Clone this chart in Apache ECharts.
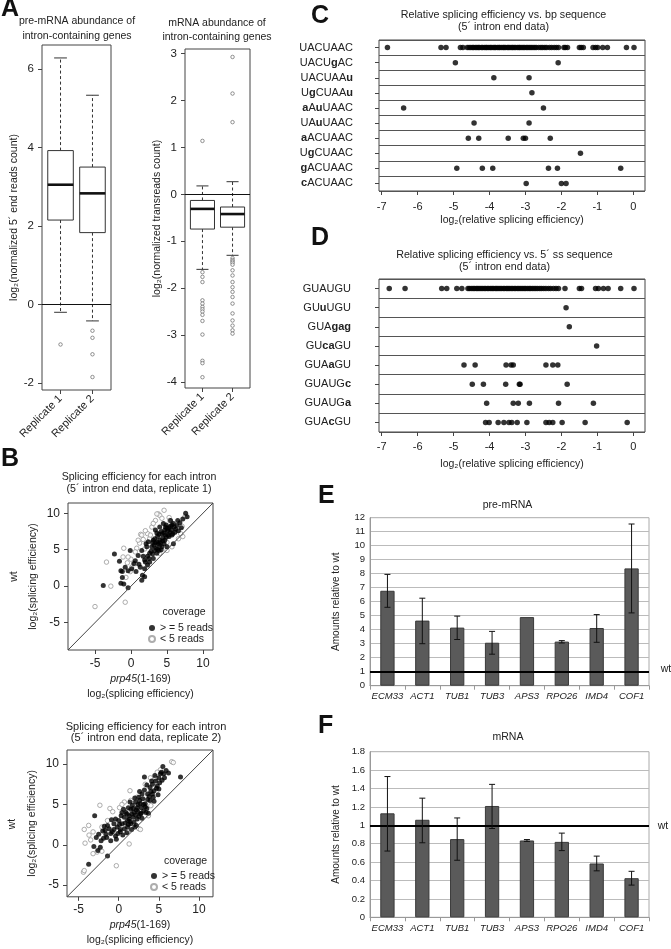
<!DOCTYPE html>
<html><head><meta charset="utf-8">
<script src="https://cdn.jsdelivr.net/npm/echarts@6/dist/echarts.min.js"></script>
<style>html,body{margin:0;padding:0;background:#fff}#c{width:671px;height:949px}</style>
</head><body><div id="c"></div>
<script>
// ---------------- DATA ----------------
// Panel A (boxplots: [lower whisker, Q1, median, Q3, upper whisker])
const repLabels = ['Replicate 1', 'Replicate 2'];
const preStats1 = [-0.2, 2.15, 3.05, 3.92, 6.28];
const preStats2 = [-0.42, 1.83, 2.83, 3.5, 5.33];
const preOut1 = [-1.02];
const preOut2 = [-0.67, -0.85, -1.27, -1.85];
const mStats1 = [-1.6, -0.74, -0.31, -0.13, 0.18];
const mStats2 = [-1.3, -0.7, -0.42, -0.27, 0.27];
const mOut1 = [1.14, -1.66, -1.76, -1.87, -2.26, -2.33, -2.4, -2.45, -2.5, -2.57, -2.7, -2.99, -3.55, -3.6, -3.9];
const mOut2 = [2.93, 2.15, 1.54, -1.36, -1.4, -1.43, -1.46, -1.5, -1.62, -1.73, -1.87, -1.98, -2.08, -2.19, -2.33, -2.54, -2.69, -2.8, -2.9, -2.97];

// Panel B replicate 1: [prp45 (x), wt (y)]
const b1Hi = [[-3.85,0.1],[-2.3,4.4],[-1.6,3.4],[-1.4,2.1],[-1.2,1.2],[-1.4,0.4],[-1.0,0.3],[-0.4,-0.2],[-1.2,2.0],[-0.8,2.6],
 [-0.1,4.9],[-0.4,2.1],[0.1,2.4],[0.4,3.1],[0.7,2.0],[1.3,2.6],[1.5,0.8],[1.9,2.4],[1.9,3.6],[2.3,2.9],
 [1.7,4.1],[1.0,4.2],[1.5,4.9],[2.2,5.4],[2.6,4.5],[2.9,5.4],[3.1,6.3],[2.4,6.1],[2.1,5.8],[3.6,6.1],
 [4.0,8.1],[4.5,8.6],[4.7,7.7],[4.9,8.4],[4.3,7.2],[3.7,6.8],[3.4,7.7],[4.0,6.3],[4.7,6.3],[5.2,7.0],
 [5.7,8.4],[5.4,7.4],[5.9,5.8],[6.2,7.8],[6.8,8.7],[7.6,10.0],[7.8,9.5],[1.9,1.3],[1.6,1.5],[2.3,4.1],
 [2.6,3.3],[3.1,3.8],[3.3,4.9],[3.6,4.5],[3.9,4.9],[4.3,5.4],[4.6,5.8],[5.0,5.4],[3.2,5.6],[3.5,5.2],
 [3.8,5.8],[4.1,6.0],[4.4,6.6],[4.8,7.0],[5.1,7.6],[5.3,8.0],[5.6,7.7],[5.8,7.2],[6.0,8.1],[6.4,8.3],
 [3.0,6.0],[3.3,6.5],[3.9,7.1],[4.2,7.5],[4.6,7.3],[5.0,7.9],[5.5,8.2],[5.9,8.6],[6.5,9.0],[7.0,8.0],
 [2.8,4.8],[3.4,5.9],[4.0,5.6],[4.4,6.2],[4.9,6.7],[5.3,6.8],[5.7,7.0],[6.1,7.4],[2.5,3.8],[3.0,4.4],
 [3.7,5.1],[4.2,5.0],[0.6,3.5],[1.1,3.0],[2.0,3.3],[6.6,7.6],[7.2,9.2],[5.5,9.0],[3.6,7.3],[4.8,8.1]];
const b1Lo = [[-5.0,-2.8],[-0.8,-2.2],[-2.8,0.0],[-3.4,3.3],[4.6,10.4],[3.8,9.9],[7.2,6.8],[7.1,8.2],[5.3,9.4],[5.0,6.0],
 [0.0,3.7],[1.35,7.1],[1.7,6.4],[-0.5,3.2],[-1.1,4.0],[-1.0,5.2],[-0.4,4.0],[0.1,2.6],[-0.7,1.2],[0.8,5.2],
 [1.2,5.9],[0.6,4.7],[1.5,7.0],[2.3,7.2],[2.9,8.1],[3.4,9.0],[4.0,9.7],[3.6,9.9],[4.3,9.3],[5.4,9.0],
 [6.1,7.4],[6.6,6.5],[5.7,5.4],[5.0,4.9],[4.0,4.5],[1.9,5.1],[2.6,6.5],[0.6,3.1],[-0.1,2.0],[6.9,7.2],
 [7.5,9.5],[2.0,7.6],[2.7,7.0],[3.1,8.6],[1.0,6.3]];

// Panel B replicate 2
const b2Hi = [[-3.75,-2.4],[-1.4,-1.4],[-3.0,3.6],[5.5,9.7],[7.7,8.4],[3.2,8.4],[-3.1,-0.2],[-2.6,-0.7],[-2.2,0.5],[-2.5,1.3],
 [-2.0,1.7],[-1.6,1.3],[-1.2,2.0],[-1.4,2.4],[-1.8,2.3],[-0.8,1.6],[-0.6,2.6],[-0.2,2.2],[-0.4,3.2],[0.0,3.0],
 [0.2,1.9],[0.4,2.6],[0.7,3.4],[0.9,4.0],[1.1,3.0],[1.3,3.6],[1.5,4.4],[1.7,4.9],[1.9,4.0],[2.1,5.3],
 [2.3,4.6],[2.5,5.9],[2.7,5.1],[2.9,6.3],[2.7,3.8],[2.3,3.2],[3.1,4.2],[3.3,5.1],[3.6,6.3],[3.9,7.1],
 [4.2,7.5],[4.4,6.7],[4.6,7.9],[4.8,7.3],[5.0,8.3],[5.2,8.8],[5.4,8.0],[5.6,8.8],[5.9,9.2],[3.9,5.5],
 [3.5,4.5],[4.3,5.9],[3.7,3.9],[1.5,2.6],[0.7,2.0],[-1.0,0.5],[-0.4,1.1],[0.2,1.6],[1.1,2.2],[1.9,2.8],
 [2.9,3.3],[-2.8,0.9],[-1.9,0.8],[-1.0,1.4],[-0.3,0.7],[0.5,1.2],[1.0,1.5],[1.6,1.9],[2.2,2.4],[0.3,3.6],
 [0.6,4.4],[1.2,4.6],[1.4,5.3],[1.8,3.4],[2.0,5.8],[2.4,4.1],[2.6,6.6],[3.0,5.7],[3.2,6.8],[3.4,4.0],
 [3.8,6.0],[4.0,6.6],[4.1,7.9],[4.5,8.6],[4.7,7.0],[5.1,7.7],[5.3,9.0],[4.9,6.2],[0.8,2.7],[1.3,3.2],
 [1.6,3.8],[2.1,3.7],[2.4,5.0],[2.8,4.6],[3.1,5.0],[0.1,2.5],[-0.6,1.9],[-1.5,0.9],[-2.3,-0.3],[-0.9,3.1],
 [1.0,3.8],[1.8,4.5],[2.2,4.3],[2.6,5.5],[3.5,7.4],[3.6,5.6],[4.2,6.3],[5.0,6.9],[5.7,8.3],[6.2,8.9],
 [0.4,4.0],[1.2,2.5],[2.0,2.2],[2.8,3.9],[3.3,4.7],[4.4,5.4],[-1.7,1.8],[-0.1,1.4],[1.4,2.9],[2.5,3.5]];
const b2Lo = [[6.6,10.3],[-4.4,-3.4],[-0.3,-2.6],[1.3,0.1],[-4.3,1.9],[-3.75,2.4],[-2.35,4.9],[-1.1,4.5],[-0.75,4.1],[0.1,4.6],
 [1.4,6.7],[3.95,8.3],[5.2,9.3],[-4.2,0.2],[-3.7,1.2],[-2.7,-0.9],[-2.1,-0.8],[-3.2,1.6],[4.0,4.85],[2.5,2.0],
 [6.8,10.2],[2.3,5.9],[0.7,5.3],[-1.4,3.0],[1.5,5.5],[3.3,7.5],[4.6,8.3],[-2.1,2.2],[-4.3,-3.2],[-3.2,-1.1],
 [2.7,1.9],[1.1,1.6],[3.7,3.6],[-3.5,0.6],[0.4,5.0],[4.8,9.0]];

// Panel C
const bpLabels = ['UACUAAC','UACUgAC','UACUAAu','UgCUAAu','aAuUAAC','UAuUAAC','aACUAAC','UgCUAAC','gACUAAC','cACUAAC'];
const bpVals = [
 [-6.84,-5.35,-5.21,-4.81,-4.74,-4.62,-4.57,-4.52,-4.47,-4.44,-4.39,-4.35,-4.31,-4.28,-4.22,-4.19,-4.14,-4.1,-4.07,-4.02,-3.98,-3.95,-3.9,-3.86,-3.83,-3.78,-3.74,-3.71,-3.66,-3.62,-3.59,-3.55,-3.5,-3.47,-3.43,-3.38,-3.35,-3.31,-3.27,-3.22,-3.18,-3.15,-3.1,-3.06,-3.02,-2.97,-2.93,-2.88,-2.84,-2.79,-2.74,-2.7,-2.63,-2.57,-2.52,-2.46,-2.41,-2.33,-2.27,-2.2,-2.14,-2.08,-1.93,-1.89,-1.83,-1.5,-1.45,-1.39,-1.12,-1.05,-0.99,-0.85,-0.72,-0.19,0.02],
 [-4.95,-2.09],
 [-3.88,-2.9],
 [-2.82],
 [-6.39,-2.5],
 [-4.43,-2.9],
 [-4.59,-4.3,-3.48,-3.06,-3.0,-2.31],
 [-1.47],
 [-4.91,-4.2,-3.91,-2.36,-2.11,-0.35],
 [-2.98,-2.0,-1.87]
];

// Panel D
const ssLabels = ['GUAUGU','GUuUGU','GUAgag','GUcaGU','GUAaGU','GUAUGc','GUAUGa','GUAcGU'];
const ssVals = [
 [-6.79,-6.35,-5.33,-5.19,-4.91,-4.77,-4.6,-4.56,-4.51,-4.46,-4.42,-4.37,-4.33,-4.29,-4.24,-4.2,-4.15,-4.11,-4.06,-4.02,-3.97,-3.93,-3.89,-3.84,-3.8,-3.76,-3.71,-3.67,-3.62,-3.58,-3.53,-3.49,-3.45,-3.4,-3.36,-3.31,-3.27,-3.22,-3.18,-3.13,-3.09,-3.04,-3.0,-2.95,-2.9,-2.86,-2.81,-2.76,-2.71,-2.66,-2.6,-2.55,-2.49,-2.43,-2.36,-2.3,-2.22,-2.15,-2.08,-1.9,-1.5,-1.44,-1.05,-0.97,-0.83,-0.7,-0.35,0.02],
 [-1.87],
 [-1.78],
 [-1.02],
 [-4.71,-4.4,-3.54,-3.4,-3.34,-2.43,-2.24,-2.1],
 [-4.48,-4.17,-3.55,-3.17,-3.15,-1.84],
 [-4.08,-3.34,-3.2,-2.89,-2.08,-1.11],
 [-4.11,-4.01,-3.76,-3.6,-3.46,-3.38,-3.23,-2.96,-2.43,-2.34,-2.24,-1.98,-1.34,-0.17]
];

// Panels E, F
const genes = ['ECM33','ACT1','TUB1','TUB3','APS3','RPO26','IMD4','COF1'];
const preVal = [6.78, 4.65, 4.15, 3.07, 4.9, 3.15, 4.12, 8.38];
const preLo  = [5.6, 3.0, 3.3, 2.25, null, 3.05, 3.1, 5.2];
const preHi  = [7.95, 6.25, 4.97, 3.88, null, 3.22, 5.08, 11.55];
const mVal = [1.13, 1.06, 0.85, 1.21, 0.835, 0.82, 0.585, 0.425];
const mLo  = [0.72, 0.81, 0.62, 0.965, 0.825, 0.725, 0.505, 0.35];
const mHi  = [1.53, 1.295, 1.08, 1.445, 0.845, 0.915, 0.665, 0.5];

// --------------- CHART ---------------
const FF = '"Liberation Sans", Arial, Helvetica, sans-serif';
const TC = '#222';
const chart = echarts.init(document.getElementById('c'), null, {renderer: 'canvas'});

function boxItem(params, api) {
  const x = api.value(0);
  const pLo = api.coord([x, api.value(1)]), pQ1 = api.coord([x, api.value(2)]),
        pMd = api.coord([x, api.value(3)]), pQ3 = api.coord([x, api.value(4)]),
        pHi = api.coord([x, api.value(5)]);
  const half = api.size([0.4, 0])[0];
  const cap = half / 2;
  const cx = pMd[0];
  const st = {stroke: '#333', lineWidth: 1, fill: null};
  return {type: 'group', children: [
    {type: 'line', shape: {x1: cx, y1: pQ3[1], x2: cx, y2: pHi[1]}, style: Object.assign({lineDash: [3, 2.5]}, st)},
    {type: 'line', shape: {x1: cx, y1: pQ1[1], x2: cx, y2: pLo[1]}, style: Object.assign({lineDash: [3, 2.5]}, st)},
    {type: 'line', shape: {x1: cx - cap, y1: pHi[1], x2: cx + cap, y2: pHi[1]}, style: st},
    {type: 'line', shape: {x1: cx - cap, y1: pLo[1], x2: cx + cap, y2: pLo[1]}, style: st},
    {type: 'rect', shape: {x: cx - half, y: pQ3[1], width: 2 * half, height: pQ1[1] - pQ3[1]}, style: {fill: '#fff', stroke: '#333', lineWidth: 1}},
    {type: 'line', shape: {x1: cx - half, y1: pMd[1], x2: cx + half, y2: pMd[1]}, style: {stroke: '#111', lineWidth: 2.6}}
  ]};
}
function errItem(params, api) {
  const i = api.value(0);
  const a = api.coord([i, api.value(1)]), b = api.coord([i, api.value(2)]);
  const c = 3;
  const st = {stroke: '#111', lineWidth: 1};
  return {type: 'group', children: [
    {type: 'line', shape: {x1: a[0], y1: a[1], x2: b[0], y2: b[1]}, style: st},
    {type: 'line', shape: {x1: a[0] - c, y1: a[1], x2: a[0] + c, y2: a[1]}, style: st},
    {type: 'line', shape: {x1: b[0] - c, y1: b[1], x2: b[0] + c, y2: b[1]}, style: st}
  ]};
}
const richLab = v => v.replace(/[a-z]+/g, m => '{b|' + m + '}');

function ttl(text, x, y, size, lh, extra) {
  return Object.assign({text, left: x, top: y - (lh * text.split('\n').length) / 2, textAlign: 'center',
    padding: 0, itemGap: 0,
    textStyle: {fontFamily: FF, fontSize: size, fontWeight: 'normal', color: TC, lineHeight: lh}}, extra || {});
}
function letter(t, x, y) {
  return {text: t, left: x, top: y, padding: 0, textStyle: {fontFamily: FF, fontSize: 25, fontWeight: 'bold', color: '#111'}};
}
const frame = {show: true, borderColor: '#444', borderWidth: 1, backgroundColor: 'transparent'};
const axLbl = (size, extra) => Object.assign({fontFamily: FF, fontSize: size, color: TC}, extra || {});
const tick = {show: true, length: 4, inside: false, lineStyle: {color: '#444'}};
const noLine = {show: false, onZero: false};

function rAxisVal(gi, min, max, vals, lblSize, lblMargin, name, nameGap, opts) {
  return Object.assign({
    type: 'value', gridIndex: gi, min, max,
    axisLine: noLine, splitLine: {show: false},
    axisTick: Object.assign({customValues: vals}, tick),
    axisLabel: axLbl(lblSize, {customValues: vals, margin: lblMargin}),
    name, nameLocation: 'middle', nameGap,
    nameTextStyle: {fontFamily: FF, fontSize: 10.5, color: TC}
  }, opts || {});
}

const boxData1 = [[1].concat(preStats1), [2].concat(preStats2)];
const boxData2 = [[1].concat(mStats1), [2].concat(mStats2)];
const outA1 = preOut1.map(v => [1, v]).concat(preOut2.map(v => [2, v]));
const outA2 = mOut1.map(v => [1, v]).concat(mOut2.map(v => [2, v]));

const cData = [];
bpVals.forEach((row, i) => row.forEach(v => cData.push([v, i])));
const dData = [];
ssVals.forEach((row, i) => row.forEach(v => dData.push([v, i])));
const eErr = [], fErr = [];
genes.forEach((g, i) => {
  if (preLo[i] != null) eErr.push([i, preLo[i], preHi[i]]);
  if (mLo[i] != null) fErr.push([i, mLo[i], mHi[i]]);
});

const B1R = [-8.75, 11.4], B2R = [-6.45, 11.75];
const repFmt = v => repLabels[Math.round(v) - 1];
const bName = '{i|prp45}(1-169)\nlog₂(splicing efficiency)';
const bNameStyle = {fontFamily: FF, fontSize: 10.5, color: TC, lineHeight: 15,
  rich: {i: {fontFamily: FF, fontSize: 10.5, fontStyle: 'italic', color: TC, lineHeight: 15}}};

const option = {
  animation: false,
  backgroundColor: '#fff',
  textStyle: {fontFamily: FF},
  title: [
    letter('A', 1, -3), letter('B', 1, 447), letter('C', 311, 4), letter('D', 311, 226), letter('E', 318, 484), letter('F', 318, 714),
    ttl('pre-mRNA abundance of\nintron-containing genes', 77, 29, 10.5, 15),
    ttl('mRNA abundance of\nintron-containing genes', 217, 30, 10.5, 14),
    ttl('Splicing efficiency for each intron\n(5´ intron end data, replicate 1)', 139, 483, 10.6, 12),
    ttl('Splicing efficiency for each intron\n(5´ intron end data, replicate 2)', 146, 732.5, 11, 11.5),
    ttl('coverage', 184, 612, 10.5, 12),
    ttl('coverage', 185.5, 861, 10.5, 12),
    ttl('Relative splicing efficiency vs. bp sequence\n(5´ intron end data)', 503.5, 21, 10.7, 12),
    ttl('Relative splicing efficiency vs. 5´ ss sequence\n(5´ intron end data)', 504.5, 261, 10.7, 12.5),
    ttl('pre-mRNA', 507.5, 505, 10.5, 12),
    ttl('mRNA', 508, 737, 10.5, 12),
    ttl('wt', 666, 669, 10.5, 12),
    ttl('wt', 663, 826, 10.5, 12)
  ],
  graphic: [
    {type: 'text', x: 14, y: 576.5, rotation: Math.PI / 2, style: {text: 'wt', fontFamily: FF, fontSize: 10.5, fill: TC, align: 'center', verticalAlign: 'middle'}},
    {type: 'text', x: 12, y: 824, rotation: Math.PI / 2, style: {text: 'wt', fontFamily: FF, fontSize: 10.5, fill: TC, align: 'center', verticalAlign: 'middle'}}
  ],
  legend: [
    {left: 148, top: 622.5, orient: 'vertical', itemWidth: 6, itemHeight: 6, itemGap: 0, padding: 0,
     selectedMode: false, data: [{name: '> = 5 reads', icon: 'circle'}, {name: '< 5 reads', icon: 'circle'}],
     textStyle: {fontFamily: FF, fontSize: 10.5, color: TC, lineHeight: 11}},
    {left: 150, top: 870.5, orient: 'vertical', itemWidth: 6, itemHeight: 6, itemGap: 0, padding: 0,
     selectedMode: false, data: [{name: '> = 5 reads', icon: 'circle'}, {name: '< 5 reads', icon: 'circle'}],
     textStyle: {fontFamily: FF, fontSize: 10.5, color: TC, lineHeight: 11}}
  ],
  grid: [
    Object.assign({left: 42, top: 45, width: 69, height: 345}, frame),
    Object.assign({left: 185, top: 49, width: 65, height: 339}, frame),
    Object.assign({left: 68, top: 503, width: 145, height: 147}, frame),
    Object.assign({left: 67, top: 750, width: 146, height: 148}, frame),
    Object.assign({left: 379, top: 40, width: 266, height: 151}, frame),
    Object.assign({left: 379, top: 279, width: 266, height: 153}, frame),
    {left: 370, top: 517.7, width: 279, height: 168, show: true, borderColor: '#aaa', borderWidth: 1},
    {left: 370, top: 751.7, width: 279, height: 165.6, show: true, borderColor: '#aaa', borderWidth: 1}
  ],
  xAxis: [
    rAxisVal(0, 0.42, 2.58, [1, 2], 11, 7, '', 0, {axisLabel: axLbl(11, {customValues: [1, 2], margin: 7, rotate: 45, formatter: repFmt})}),
    rAxisVal(1, 0.42, 2.58, [1, 2], 11, 7, '', 0, {axisLabel: axLbl(11, {customValues: [1, 2], margin: 7, rotate: 45, formatter: repFmt})}),
    rAxisVal(2, B1R[0], B1R[1], [-5, 0, 5, 10], 12, 8, bName, 21.8, {nameTextStyle: bNameStyle}),
    rAxisVal(3, B2R[0], B2R[1], [-5, 0, 5, 10], 12, 7, bName, 21.2, {nameTextStyle: bNameStyle}),
    rAxisVal(4, -7.075, 0.326, [-7, -6, -5, -4, -3, -2, -1, 0], 11, 10.5, 'log₂(relative splicing efficiency)', 24),
    rAxisVal(5, -7.075, 0.326, [-7, -6, -5, -4, -3, -2, -1, 0], 11, 9, 'log₂(relative splicing efficiency)', 27),
    {type: 'category', gridIndex: 6, data: genes, axisLine: {onZero: false, lineStyle: {color: '#999'}},
     axisTick: {show: true, length: 4, lineStyle: {color: '#999'}},
     axisLabel: axLbl(9.5, {fontStyle: 'italic', interval: 0, margin: 6})},
    {type: 'category', gridIndex: 7, data: genes, axisLine: {onZero: false, lineStyle: {color: '#999'}},
     axisTick: {show: true, length: 4, lineStyle: {color: '#999'}},
     axisLabel: axLbl(9.5, {fontStyle: 'italic', interval: 0, margin: 6})}
  ],
  yAxis: [
    rAxisVal(0, -2.18, 6.61, [-2, 0, 2, 4, 6], 11.5, 8, 'log₂(normalized 5´ end reads count)', 16.5),
    rAxisVal(1, -4.13, 3.1, [-4, -3, -2, -1, 0, 1, 2, 3], 11.5, 8, 'log₂(normalized transreads count)', 16),
    rAxisVal(2, B1R[0], B1R[1], [-5, 0, 5, 10], 12, 8, 'log₂(splicing efficiency)', 29.5),
    rAxisVal(3, B2R[0], B2R[1], [-5, 0, 5, 10], 12, 8, 'log₂(splicing efficiency)', 29.5),
    {type: 'category', gridIndex: 4, data: bpLabels, inverse: true,
     axisLine: noLine, axisTick: {show: true, length: 4, alignWithLabel: true, lineStyle: {color: '#444'}},
     splitLine: {show: true, interval: 0, lineStyle: {color: '#555'}},
     axisLabel: axLbl(11, {margin: 26, interval: 0, formatter: richLab, rich: {b: {fontFamily: FF, fontSize: 11, fontWeight: 'bold', color: TC}}})},
    {type: 'category', gridIndex: 5, data: ssLabels, inverse: true,
     axisLine: noLine, axisTick: {show: true, length: 4, alignWithLabel: true, lineStyle: {color: '#444'}},
     splitLine: {show: true, interval: 0, lineStyle: {color: '#555'}},
     axisLabel: axLbl(11, {margin: 28, interval: 0, formatter: richLab, rich: {b: {fontFamily: FF, fontSize: 11, fontWeight: 'bold', color: TC}}})},
    {type: 'value', gridIndex: 6, min: 0, max: 12, interval: 1,
     axisLine: {show: true, onZero: false, lineStyle: {color: '#999'}}, axisTick: {show: false},
     splitLine: {show: true, lineStyle: {color: '#bbb'}}, axisLabel: axLbl(9.5, {margin: 5}),
     name: 'Amounts relative to wt', nameLocation: 'middle', nameGap: 29, nameTextStyle: {fontFamily: FF, fontSize: 10, color: TC}},
    {type: 'value', gridIndex: 7, min: 0, max: 1.8, interval: 0.2,
     axisLine: {show: true, onZero: false, lineStyle: {color: '#999'}}, axisTick: {show: false},
     splitLine: {show: true, lineStyle: {color: '#bbb'}}, axisLabel: axLbl(9.5, {margin: 5}),
     name: 'Amounts relative to wt', nameLocation: 'middle', nameGap: 29, nameTextStyle: {fontFamily: FF, fontSize: 10, color: TC}}
  ],
  series: [
    // A
    {type: 'custom', xAxisIndex: 0, yAxisIndex: 0, renderItem: boxItem, data: boxData1, silent: true},
    {type: 'scatter', xAxisIndex: 0, yAxisIndex: 0, data: outA1, symbolSize: 3.5, silent: true,
     itemStyle: {color: '#fff', borderColor: '#555', borderWidth: 0.8},
     markLine: {silent: true, symbol: 'none', label: {show: false}, lineStyle: {color: '#111', type: 'solid', width: 1}, data: [{yAxis: 0}]}},
    {type: 'custom', xAxisIndex: 1, yAxisIndex: 1, renderItem: boxItem, data: boxData2, silent: true},
    {type: 'scatter', xAxisIndex: 1, yAxisIndex: 1, data: outA2, symbolSize: 3.5, silent: true,
     itemStyle: {color: '#fff', borderColor: '#555', borderWidth: 0.8},
     markLine: {silent: true, symbol: 'none', label: {show: false}, lineStyle: {color: '#111', type: 'solid', width: 1}, data: [{yAxis: 0}]}},
    // B1
    {type: 'line', xAxisIndex: 2, yAxisIndex: 2, data: [[B1R[0], B1R[0]], [B1R[1], B1R[1]]], showSymbol: false, silent: true,
     lineStyle: {color: '#444', width: 1}},
    {name: '< 5 reads', type: 'scatter', xAxisIndex: 2, yAxisIndex: 2, data: b1Lo, symbolSize: 4.5, silent: true,
     itemStyle: {color: '#fff', borderColor: '#999', borderWidth: 1}},
    {name: '> = 5 reads', type: 'scatter', xAxisIndex: 2, yAxisIndex: 2, data: b1Hi, symbolSize: 5, silent: true,
     itemStyle: {color: '#000'}},
    // B2
    {type: 'line', xAxisIndex: 3, yAxisIndex: 3, data: [[B2R[0], B2R[0]], [B2R[1], B2R[1]]], showSymbol: false, silent: true,
     lineStyle: {color: '#444', width: 1}},
    {name: '< 5 reads', type: 'scatter', xAxisIndex: 3, yAxisIndex: 3, data: b2Lo, symbolSize: 4.5, silent: true,
     itemStyle: {color: '#fff', borderColor: '#999', borderWidth: 1}},
    {name: '> = 5 reads', type: 'scatter', xAxisIndex: 3, yAxisIndex: 3, data: b2Hi, symbolSize: 5, silent: true,
     itemStyle: {color: '#000'}},
    // C, D
    {type: 'scatter', xAxisIndex: 4, yAxisIndex: 4, data: cData, symbolSize: 5.5, silent: true, itemStyle: {color: '#000'}},
    {type: 'scatter', xAxisIndex: 5, yAxisIndex: 5, data: dData, symbolSize: 5.5, silent: true, itemStyle: {color: '#000'}},
    // E
    {type: 'bar', xAxisIndex: 6, yAxisIndex: 6, data: preVal, barWidth: '41%', silent: true,
     itemStyle: {color: '#5a5a5a', borderColor: '#3a3a3a', borderWidth: 1},
     markLine: {silent: true, symbol: 'none', label: {show: false}, lineStyle: {color: '#000', type: 'solid', width: 2}, data: [{yAxis: 1}]}},
    {type: 'custom', xAxisIndex: 6, yAxisIndex: 6, renderItem: errItem, data: eErr, silent: true, z: 5},
    // F
    {type: 'bar', xAxisIndex: 7, yAxisIndex: 7, data: mVal, barWidth: '41%', silent: true,
     itemStyle: {color: '#5a5a5a', borderColor: '#3a3a3a', borderWidth: 1},
     markLine: {silent: true, symbol: 'none', label: {show: false}, lineStyle: {color: '#000', type: 'solid', width: 2}, data: [{yAxis: 1}]}},
    {type: 'custom', xAxisIndex: 7, yAxisIndex: 7, renderItem: errItem, data: fErr, silent: true, z: 5}
  ]
};
chart.setOption(option);
</script>
</body></html>
